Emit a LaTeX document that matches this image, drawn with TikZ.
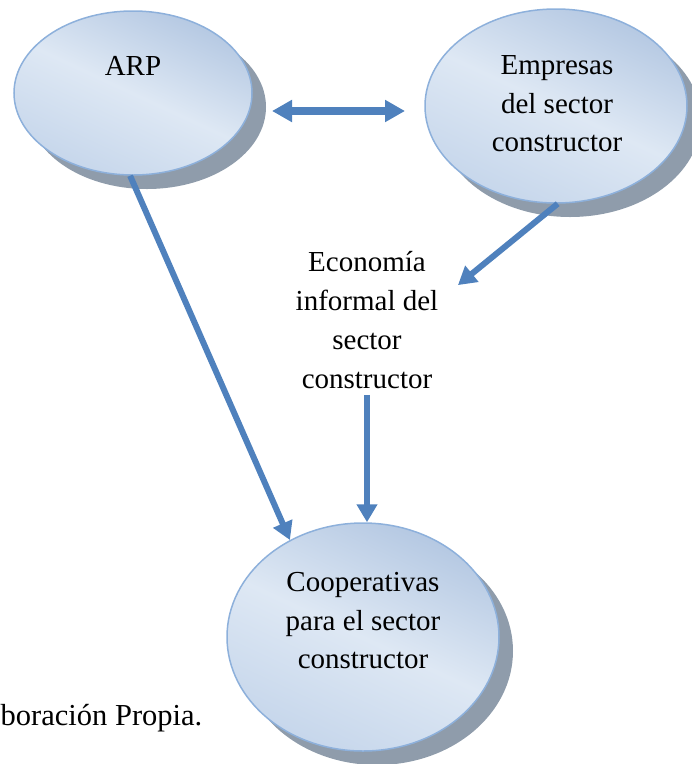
\documentclass[tikz,border=0pt]{standalone}
\usepackage{fontspec}
\setmainfont{Liberation Serif}
\usetikzlibrary{shapes.geometric,arrows.meta,calc,shadows}
\definecolor{arrowblue}{HTML}{4F81BD}
\definecolor{ellLight}{HTML}{DEE8F4}
\definecolor{ellMid}{HTML}{C3D4EA}
\definecolor{ellDark}{HTML}{AFC4E0}
\definecolor{ellEdge}{HTML}{8DB0DB}
\definecolor{shadowgray}{HTML}{8F9CAB}
\pgfdeclareverticalshading{ellband}{100bp}{color(0bp)=(ellMid); color(22bp)=(ellMid); color(50bp)=(ellLight); color(78bp)=(ellDark); color(100bp)=(ellDark)}
\begin{document}
\begin{tikzpicture}[x=1pt,y=-1pt,
  bubble/.style={ellipse, draw=ellEdge, line width=1.5pt, shading=ellband, shading angle=-25, inner sep=0pt,
    drop shadow={shadow xshift=14pt, shadow yshift=-14pt, fill=shadowgray, draw=none, opacity=1}},
  lbl/.style={font=\fontsize{29}{38.5}\selectfont, align=center, inner sep=0pt},
  conn/.style={draw=arrowblue, line width=6pt, -{Triangle[width=20pt,length=18pt]}},
  dbl/.style={draw=arrowblue, line width=8pt, {Triangle[width=21pt,length=20pt]}-{Triangle[width=21pt,length=20pt]}}
]
\useasboundingbox (0,0) rectangle (692,764);

% bubbles
\node[bubble, minimum width=238pt, minimum height=164pt] (arp) at (133,93) {};
\node[bubble, minimum width=262pt, minimum height=194pt] (emp) at (556,106) {};
\node[bubble, minimum width=272pt, minimum height=228pt] (coop) at (363,637) {};

% texts
\node[lbl, anchor=base] (arptxt) at (133,75) {ARP};
\node[lbl] (emptxt) at (557,104) {Empresas\\del sector\\constructor};
\node[lbl] (cooptxt) at (363,621) {Cooperativas\\para el sector\\constructor};
\node[lbl, font=\fontsize{29}{39}\selectfont, inner xsep=19.5pt, inner ysep=6pt] (eco) at (367,320)
  {Economía\\informal del\\sector\\constructor};
\node[lbl, font=\fontsize{30.5}{36}\selectfont, anchor=base west] (src) at (0.5,725) {boración Propia.};

% connectors
\coordinate (dl) at (272,111);
\coordinate (dr) at (405,111);
\draw[dbl] (dl) -- (dr);
\draw[conn] (arp.-92) -- (coop.127);
\draw[conn] (emp.-89) -- (eco.21.6);
\draw[conn] (eco.south) -- (eco.south |- coop.north);
\end{tikzpicture}
\end{document}
